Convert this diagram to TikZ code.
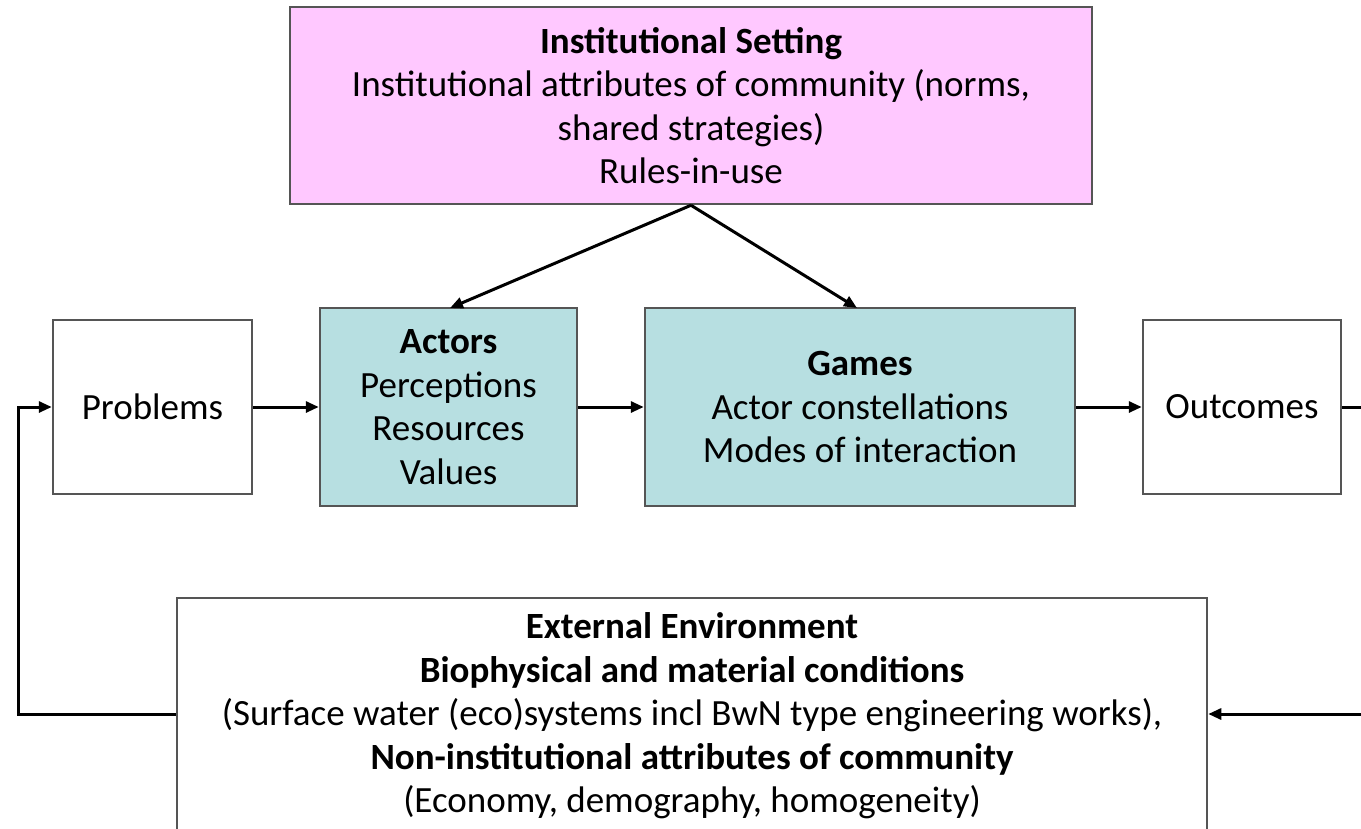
\documentclass[tikz,border=0pt]{standalone}
\usepackage{fontspec}
\setmainfont{Carlito}
\usetikzlibrary{arrows.meta}
\definecolor{pinkfill}{RGB}{255,200,255}
\definecolor{tealfill}{RGB}{183,223,225}
\definecolor{edgegray}{RGB}{85,85,85}
\begin{document}
\begin{tikzpicture}[x=1pt,y=-1pt,
  box/.style={draw=edgegray,line width=2.5pt,inner sep=0pt,align=center,
    font=\fontsize{37}{43.5}\selectfont},
  arr/.style={line width=3pt,-{Triangle[length=13pt,width=11pt]}},
  ln/.style={line width=3pt}]
\useasboundingbox (0,0) rectangle (1361,828);
\clip (0,0) rectangle (1361,828);
\node[box,fill=pinkfill,minimum width=802pt,minimum height=197pt] (inst) at (691,105.5)
  {\textbf{Institutional Setting}\\Institutional attributes of community (norms,\\shared strategies)\\Rules-in-use};
\node[box,minimum width=199pt,minimum height=174pt] (prob) at (152.5,407) {Problems};
\node[box,fill=tealfill,minimum width=257pt,minimum height=198pt] (act) at (448.5,407)
  {\textbf{Actors}\\Perceptions\\Resources\\Values};
\node[box,fill=tealfill,minimum width=430pt,minimum height=198pt] (game) at (860,407)
  {\textbf{Games}\\Actor constellations\\Modes of interaction};
\node[box,minimum width=198pt,minimum height=174pt] (out) at (1242,407) {Outcomes};
\node[box,minimum width=1030pt,minimum height=236pt] (ext) at (692,716)
  {\textbf{External Environment}\\\textbf{Biophysical and material conditions}\\(Surface water (eco)systems incl BwN type engineering works),\\\textbf{Non-institutional attributes of community}\\(Economy, demography, homogeneity)};
\coordinate (rout) at (1365,407);
\coordinate (rin) at (1365,714);
\coordinate (lcorner) at (18,714);
\draw[arr] (inst.south) -- (450,308);
\draw[arr] (inst.south) -- (857,308);
\draw[arr] (prob) -- (act);
\draw[arr] (act) -- (game);
\draw[arr] (game) -- (out);
\draw[ln] (out.east) -- (rout);
\draw[arr] (rin) -- (ext.east |- rin);
\draw[arr] (ext.west |- lcorner) -- (lcorner) |- (prob.west);
\end{tikzpicture}
\end{document}
